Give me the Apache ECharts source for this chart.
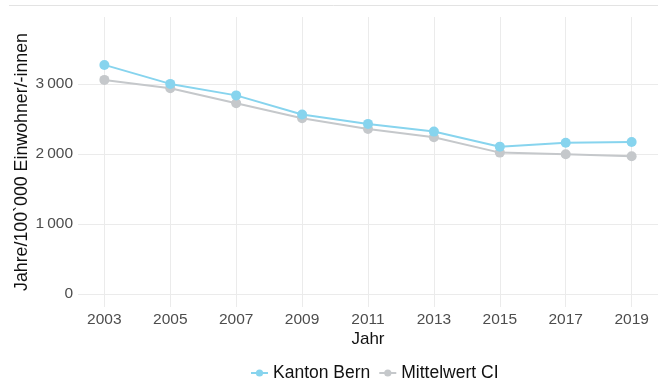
<!DOCTYPE html>
<html><head><meta charset="utf-8">
<script src="https://cdn.jsdelivr.net/npm/echarts@6/dist/echarts.min.js"></script>
<style>html,body{margin:0;padding:0;background:#fff}#c{width:658px;height:381px}</style>
</head><body><div id="c"></div>
<script>
const years = [2003, 2005, 2007, 2009, 2011, 2013, 2015, 2017, 2019];
const kantonBern = [3271, 3000, 2836, 2564, 2429, 2319, 2104, 2161, 2171];
const mittelwertCI = [3057, 2938, 2724, 2510, 2357, 2238, 2019, 1995, 1967];
const yTicks = [0, 1000, 2000, 3000];
const seriesNames = ['Kanton Bern', 'Mittelwert CI'];
const colors = ['#87d4ee', '#c5c8cb'];

const fmt = v => String(v).replace(/\B(?=(\d{3})+(?!\d))/g, '\u2009');
const chart = echarts.init(document.getElementById('c'));
const font = 'Liberation Sans, Arial, sans-serif';
chart.setOption({
  animation: false,
  textStyle: {fontFamily: font},
  graphic: [{type: 'line', shape: {x1: 9, y1: 5.5, x2: 658, y2: 5.5}, style: {stroke: '#e3e3e3', lineWidth: 1}}],
  grid: {left: 78, top: 17, width: 583.5, height: 290, containLabel: false},
  xAxis: {
    type: 'value', min: 2002.2, max: 2019.8,
    name: 'Jahr', nameLocation: 'middle', nameGap: 24, nameMoveOverlap: false,
    nameTextStyle: {color: '#111', fontSize: 17, fontFamily: font},
    axisLine: {show: false}, axisTick: {show: false, customValues: years},
    axisLabel: {customValues: years, formatter: v => String(v), color: '#4d4d4d', fontSize: 15.5, margin: 5, fontFamily: font},
    splitLine: {show: true, lineStyle: {color: '#ebebeb', width: 1}}
  },
  yAxis: {
    type: 'value', min: -185, max: 3955,
    name: 'Jahre/100`000 Einwohner/-innen', nameLocation: 'middle', nameGap: 47, nameMoveOverlap: false,
    nameTextStyle: {color: '#111', fontSize: 17.8, fontFamily: font},
    axisLine: {show: false}, axisTick: {show: false, customValues: yTicks},
    axisLabel: {customValues: yTicks, formatter: v => fmt(v), color: '#4d4d4d', fontSize: 15.5, margin: 5, fontFamily: font},
    splitLine: {show: true, lineStyle: {color: '#ebebeb', width: 1}}
  },
  legend: {
    top: 359, left: 245, itemWidth: 17, itemHeight: 9, itemGap: 8,
    textStyle: {color: '#111', fontSize: 17.5, fontFamily: font},
    data: seriesNames
  },
  series: [
    {name: seriesNames[1], type: 'line', data: years.map((y, i) => [y, mittelwertCI[i]]),
     color: colors[1], symbol: 'circle', symbolSize: 10, lineStyle: {width: 2}, z: 2},
    {name: seriesNames[0], type: 'line', data: years.map((y, i) => [y, kantonBern[i]]),
     color: colors[0], symbol: 'circle', symbolSize: 10, lineStyle: {width: 2}, z: 3}
  ]
});
</script></body></html>
